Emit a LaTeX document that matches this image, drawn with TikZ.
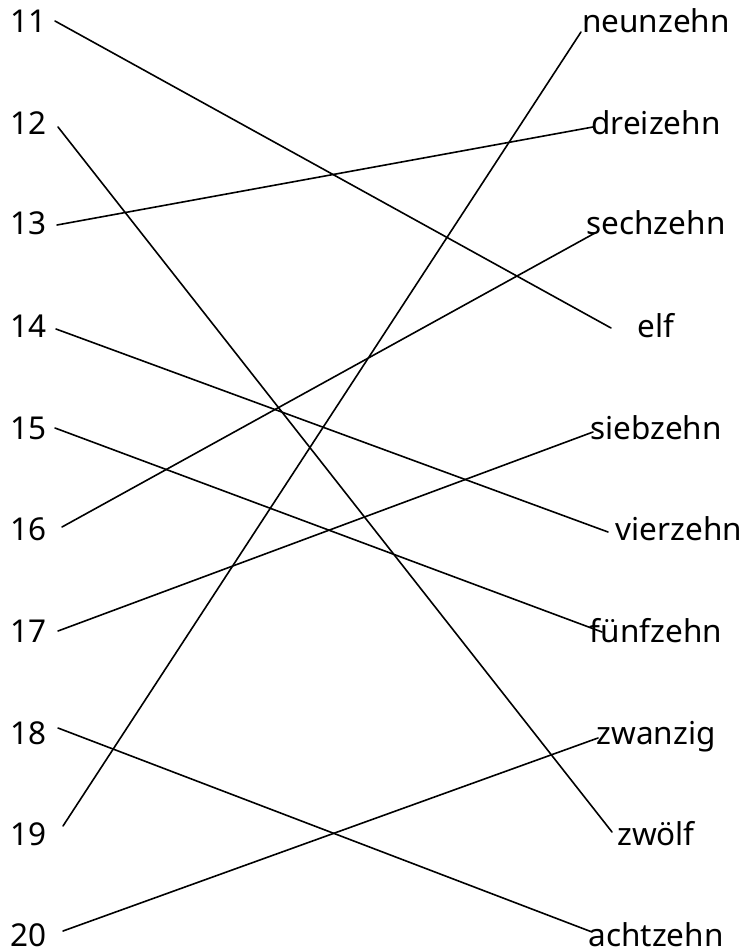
\documentclass[tikz,border=0pt]{standalone}
\usepackage{fontspec}
\setmainfont{Noto Sans}
\usetikzlibrary{positioning}

\begin{document}
\begin{tikzpicture}[
  x=1pt, y=-1pt,
  num/.style={anchor=base west, inner sep=0pt, font=\fontsize{31.5}{36}\selectfont},
  word/.style={anchor=base, inner sep=0pt, font=\fontsize{31.5}{36}\selectfont},
  link/.style={line width=1.6pt, line cap=round}
]
  \useasboundingbox (0,0) rectangle (747,949);

  \node[num] (n11) at (10,33) {11};
  \node[num] (n12) at (10,135) {12};
  \node[num] (n13) at (10,235) {13};
  \node[num] (n14) at (10,337) {14};
  \node[num] (n15) at (10,439) {15};
  \node[num] (n16) at (10,540) {16};
  \node[num] (n17) at (10,642) {17};
  \node[num] (n18) at (10,744) {18};
  \node[num] (n19) at (10,845) {19};
  \node[num] (n20) at (10,946) {20};

  \node[word] (neunzehn) at (656,33) {neunzehn};
  \node[word] (dreizehn) at (656,135) {dreizehn};
  \node[word] (sechzehn) at (656,235) {sechzehn};
  \node[word] (elf) at (656,337) {elf};
  \node[word] (siebzehn) at (656,439) {siebzehn};
  \node[word] (vierzehn) at (679,540) {vierzehn};
  \node[word] (fuenfzehn) at (656,642) {fünfzehn};
  \node[word] (zwanzig) at (656,744) {zwanzig};
  \node[word] (zwoelf) at (656,845) {zwölf};
  \node[word] (achtzehn) at (656,946) {achtzehn};

  \coordinate (p11) at (55,21);
  \coordinate (p12) at (58,127);
  \coordinate (p13) at (57,225);
  \coordinate (p14) at (56,329);
  \coordinate (p15) at (55,428);
  \coordinate (p16) at (62,527);
  \coordinate (p17) at (58,631);
  \coordinate (p18) at (58,728);
  \coordinate (p19) at (63,826);
  \coordinate (p20) at (63,931);

  \coordinate (q-neunzehn) at (581,32);
  \coordinate (q-dreizehn) at (593,127);
  \coordinate (q-sechzehn) at (595,233);
  \coordinate (q-elf) at (611,328);
  \coordinate (q-siebzehn) at (593,432);
  \coordinate (q-vierzehn) at (608,532);
  \coordinate (q-fuenfzehn) at (602,632);
  \coordinate (q-zwanzig) at (598,738);
  \coordinate (q-zwoelf) at (612,832);
  \coordinate (q-achtzehn) at (592,932);

  \draw[link] (p11) -- (q-elf);
  \draw[link] (p12) -- (q-zwoelf);
  \draw[link] (p13) -- (q-dreizehn);
  \draw[link] (p14) -- (q-vierzehn);
  \draw[link] (p15) -- (q-fuenfzehn);
  \draw[link] (p16) -- (q-sechzehn);
  \draw[link] (p17) -- (q-siebzehn);
  \draw[link] (p18) -- (q-achtzehn);
  \draw[link] (p19) -- (q-neunzehn);
  \draw[link] (p20) -- (q-zwanzig);
\end{tikzpicture}
\end{document}
